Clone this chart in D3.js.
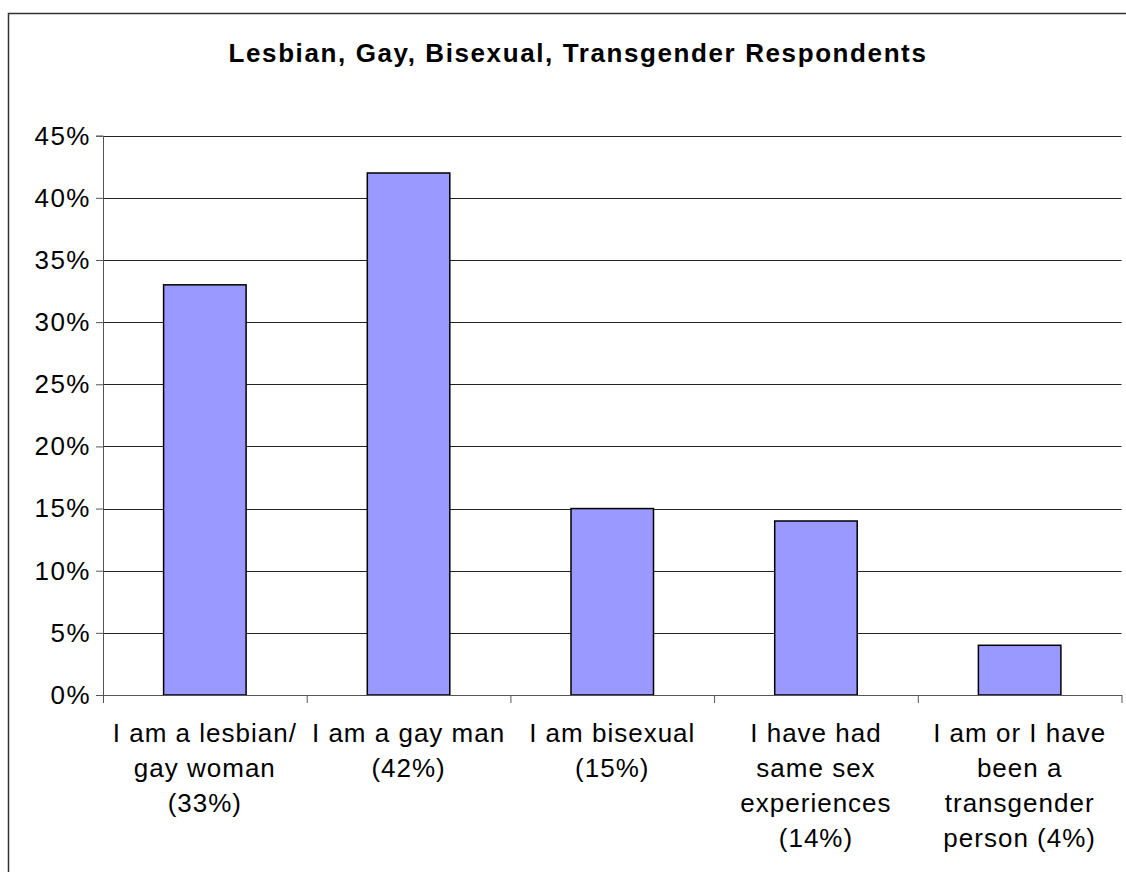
<!DOCTYPE html>
<html>
<head>
<meta charset="utf-8">
<script src="https://cdn.jsdelivr.net/npm/d3@7"></script>
<style>
  body { margin: 0; background: #fff; }
  svg text { font-family: "Liberation Sans", Arial, sans-serif; fill: #000; }
</style>
</head>
<body>
<svg id="chart" width="1126" height="872"></svg>
<script>
// Chart data
const categories = ["lesbian", "gay", "bisexual", "samesex", "transgender"];
const labelLines = [
    ["I am a lesbian/", "gay woman", "(33%)"],
    ["I am a gay man", "(42%)"],
    ["I am bisexual", "(15%)"],
    ["I have had", "same sex", "experiences", "(14%)"],
    ["I am or I have", "been a", "transgender", "person (4%)"]
];
const values = [0.33, 0.42, 0.15, 0.14, 0.04];
const yTicks = [0, 0.05, 0.10, 0.15, 0.20, 0.25, 0.30, 0.35, 0.40, 0.45];
const title = "Lesbian, Gay, Bisexual, Transgender Respondents";

const svg = d3.select("#chart");

// outer frame (runs off the right and bottom edge, like the source)
svg.append("rect")
    .attr("x", 8.5)
    .attr("y", 13.5)
    .attr("width", 1300)
    .attr("height", 1000)
    .attr("fill", "none")
    .attr("stroke", "#333")
    .attr("stroke-width", 1.5);

const plot = {left: 103, right: 1121.5, top: 135.7, bottom: 695};

const yScale = d3.scaleLinear()
    .domain([0, 0.45])
    .range([plot.bottom, plot.top]);

const xScale = d3.scaleBand()
    .domain(categories)
    .range([plot.left, plot.right])
    .paddingInner(0.595)
    .paddingOuter(0.2975);

// boundary ticks between categories
const edgeScale = d3.scaleLinear()
    .domain([0, categories.length])
    .range([plot.left, plot.right]);

// title
svg.append("text")
    .attr("x", 578)
    .attr("y", 62)
    .attr("text-anchor", "middle")
    .attr("font-size", "26px")
    .attr("font-weight", "bold")
    .attr("letter-spacing", "1.6px")
    .text(title);

// gridlines
svg.append("g")
    .selectAll("line")
    .data(yTicks.slice(1))
    .enter()
    .append("line")
    .attr("x1", plot.left)
    .attr("x2", plot.right)
    .attr("y1", d => Math.round(yScale(d)) + 0.5)
    .attr("y2", d => Math.round(yScale(d)) + 0.5)
    .attr("stroke", "#222")
    .attr("stroke-width", 1);

// y axis
const yAxis = svg.append("g")
    .attr("transform", `translate(${plot.left}, 0)`)
    .call(d3.axisLeft(yScale)
        .tickValues(yTicks)
        .tickFormat(d3.format(".0%"))
        .tickSize(7)
        .tickPadding(5));
yAxis.select(".domain").attr("stroke", "#555");
yAxis.selectAll(".tick line").attr("stroke", "#555");
yAxis.selectAll(".tick text")
    .attr("font-size", "26px")
    .attr("letter-spacing", "1.5px")
    .style("font-family", "'Liberation Sans', Arial, sans-serif")
    .attr("fill", "#000");

// bars
svg.append("g")
    .selectAll("rect")
    .data(values)
    .enter()
    .append("rect")
    .attr("x", (d, i) => xScale(categories[i]))
    .attr("y", d => yScale(d))
    .attr("width", xScale.bandwidth())
    .attr("height", d => yScale(0) - yScale(d))
    .attr("fill", "#9999FF")
    .attr("stroke", "#000")
    .attr("stroke-width", 1.5);

// x axis with ticks at category edges
const xAxis = svg.append("g")
    .attr("transform", `translate(0, ${plot.bottom})`)
    .call(d3.axisBottom(edgeScale)
        .tickValues(d3.range(categories.length + 1))
        .tickFormat("")
        .tickSize(8)
        .tickSizeOuter(0));
xAxis.select(".domain").attr("stroke", "#555");
xAxis.selectAll(".tick line").attr("stroke", "#555");

// category labels
const labels = svg.append("g")
    .selectAll("text")
    .data(labelLines)
    .enter()
    .append("text")
    .attr("text-anchor", "middle")
    .attr("font-size", "26px")
    .attr("letter-spacing", "1px")
    .attr("transform", (d, i) =>
        `translate(${xScale(categories[i]) + xScale.bandwidth() / 2}, 742)`);

labels.selectAll("tspan")
    .data(d => d)
    .enter()
    .append("tspan")
    .attr("x", 0)
    .attr("y", (d, i) => i * 35)
    .text(d => d);
</script>
</body>
</html>
